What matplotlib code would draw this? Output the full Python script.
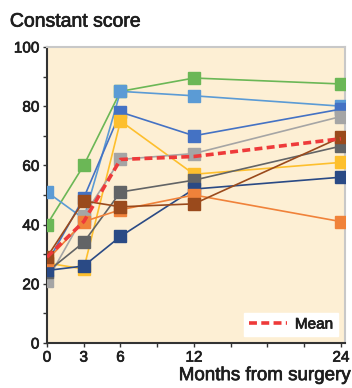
import matplotlib
matplotlib.use("Agg")
import matplotlib.pyplot as plt
import matplotlib.patheffects as pe
from matplotlib.ticker import MultipleLocator

plt.rcParams["font.family"] = ["Liberation Sans", "DejaVu Sans"]

months = [0, 3, 6, 12, 24]

# individual patients
green = [40, 60, 85, 89.5, 87.5]
light_blue = [51, 42, 85, 83.5, 80]
blue = [27, 49, 78, 70, 79]
yellow = [27, 25, 75, 57, 61]
gray = [21, 43, 62, 64, 76.5]
dark_gray = [24, 34, 51, 55, 66.5]
navy = [24.5, 26, 36, 52, 56]
orange = [28, 41, 45, 50, 41]
brown = [29, 48, 46, 47, 69.5]
mean = [29, 41, 62, 63, 69]

series = [
    (green, "#6bb756"),
    (light_blue, "#5b9bd5"),
    (blue, "#4472c4"),
    (yellow, "#fdbf2d"),
    (gray, "#a5a5a5"),
    (dark_gray, "#626466"),
    (navy, "#2a4a85"),
    (orange, "#f0823a"),
    (brown, "#9a4a1c"),
]

INK = "#1e1e1e"
# slightly heavier text than the regular face
heavy = [pe.withStroke(linewidth=0.5, foreground=INK)]

fig = plt.figure(figsize=(3.52, 3.88), dpi=100)
ax = fig.add_axes([0.1335, 0.116, 0.8455, 0.763])
ax.set_facecolor("#fdefd4")

for vals, col in series:
    ax.plot(months, vals, color=col, lw=1.2, marker="s", ms=8, mec=col, mfc=col, zorder=3)

ax.plot(months, mean, color="#ee3a3a", lw=2.6, ls=(0, (2.2, 1.2)), zorder=4, label="Mean")

ax.set_xlim(0, 24.3)
ax.set_ylim(0, 100)
ax.set_xticks(months)
ax.xaxis.set_minor_locator(MultipleLocator(3))
ax.yaxis.set_major_locator(MultipleLocator(20))
ax.yaxis.set_minor_locator(MultipleLocator(10))
ax.tick_params(which="both", direction="out", length=3, width=1.0, color="#333333",
               labelsize=11, labelcolor=INK, pad=2.5)
for lab in ax.get_xticklabels() + ax.get_yticklabels():
    lab.set_path_effects(heavy)

for s in ("left", "bottom"):
    ax.spines[s].set_color("#333333")
    ax.spines[s].set_linewidth(1.5)
for s in ("top", "right"):
    ax.spines[s].set_color("#c8c8c8")
    ax.spines[s].set_linewidth(1.5)

leg = ax.legend(loc="lower right", fontsize=11, frameon=True, fancybox=False,
                handlelength=2.5, handletextpad=0.5, borderpad=0.3, borderaxespad=0.45)
leg.get_frame().set_facecolor("white")
leg.get_frame().set_edgecolor("white")
leg.get_frame().set_alpha(1)
for t in leg.get_texts():
    t.set_color(INK)
    t.set_path_effects(heavy)

fig.text(0.028, 0.943, "Constant score", fontsize=14, color=INK, va="center", ha="left",
         path_effects=heavy)
fig.text(0.995, 0.01, "Months from surgery", fontsize=13.5, color=INK, va="bottom", ha="right",
         path_effects=heavy)

fig.savefig("out.png", dpi=100)
